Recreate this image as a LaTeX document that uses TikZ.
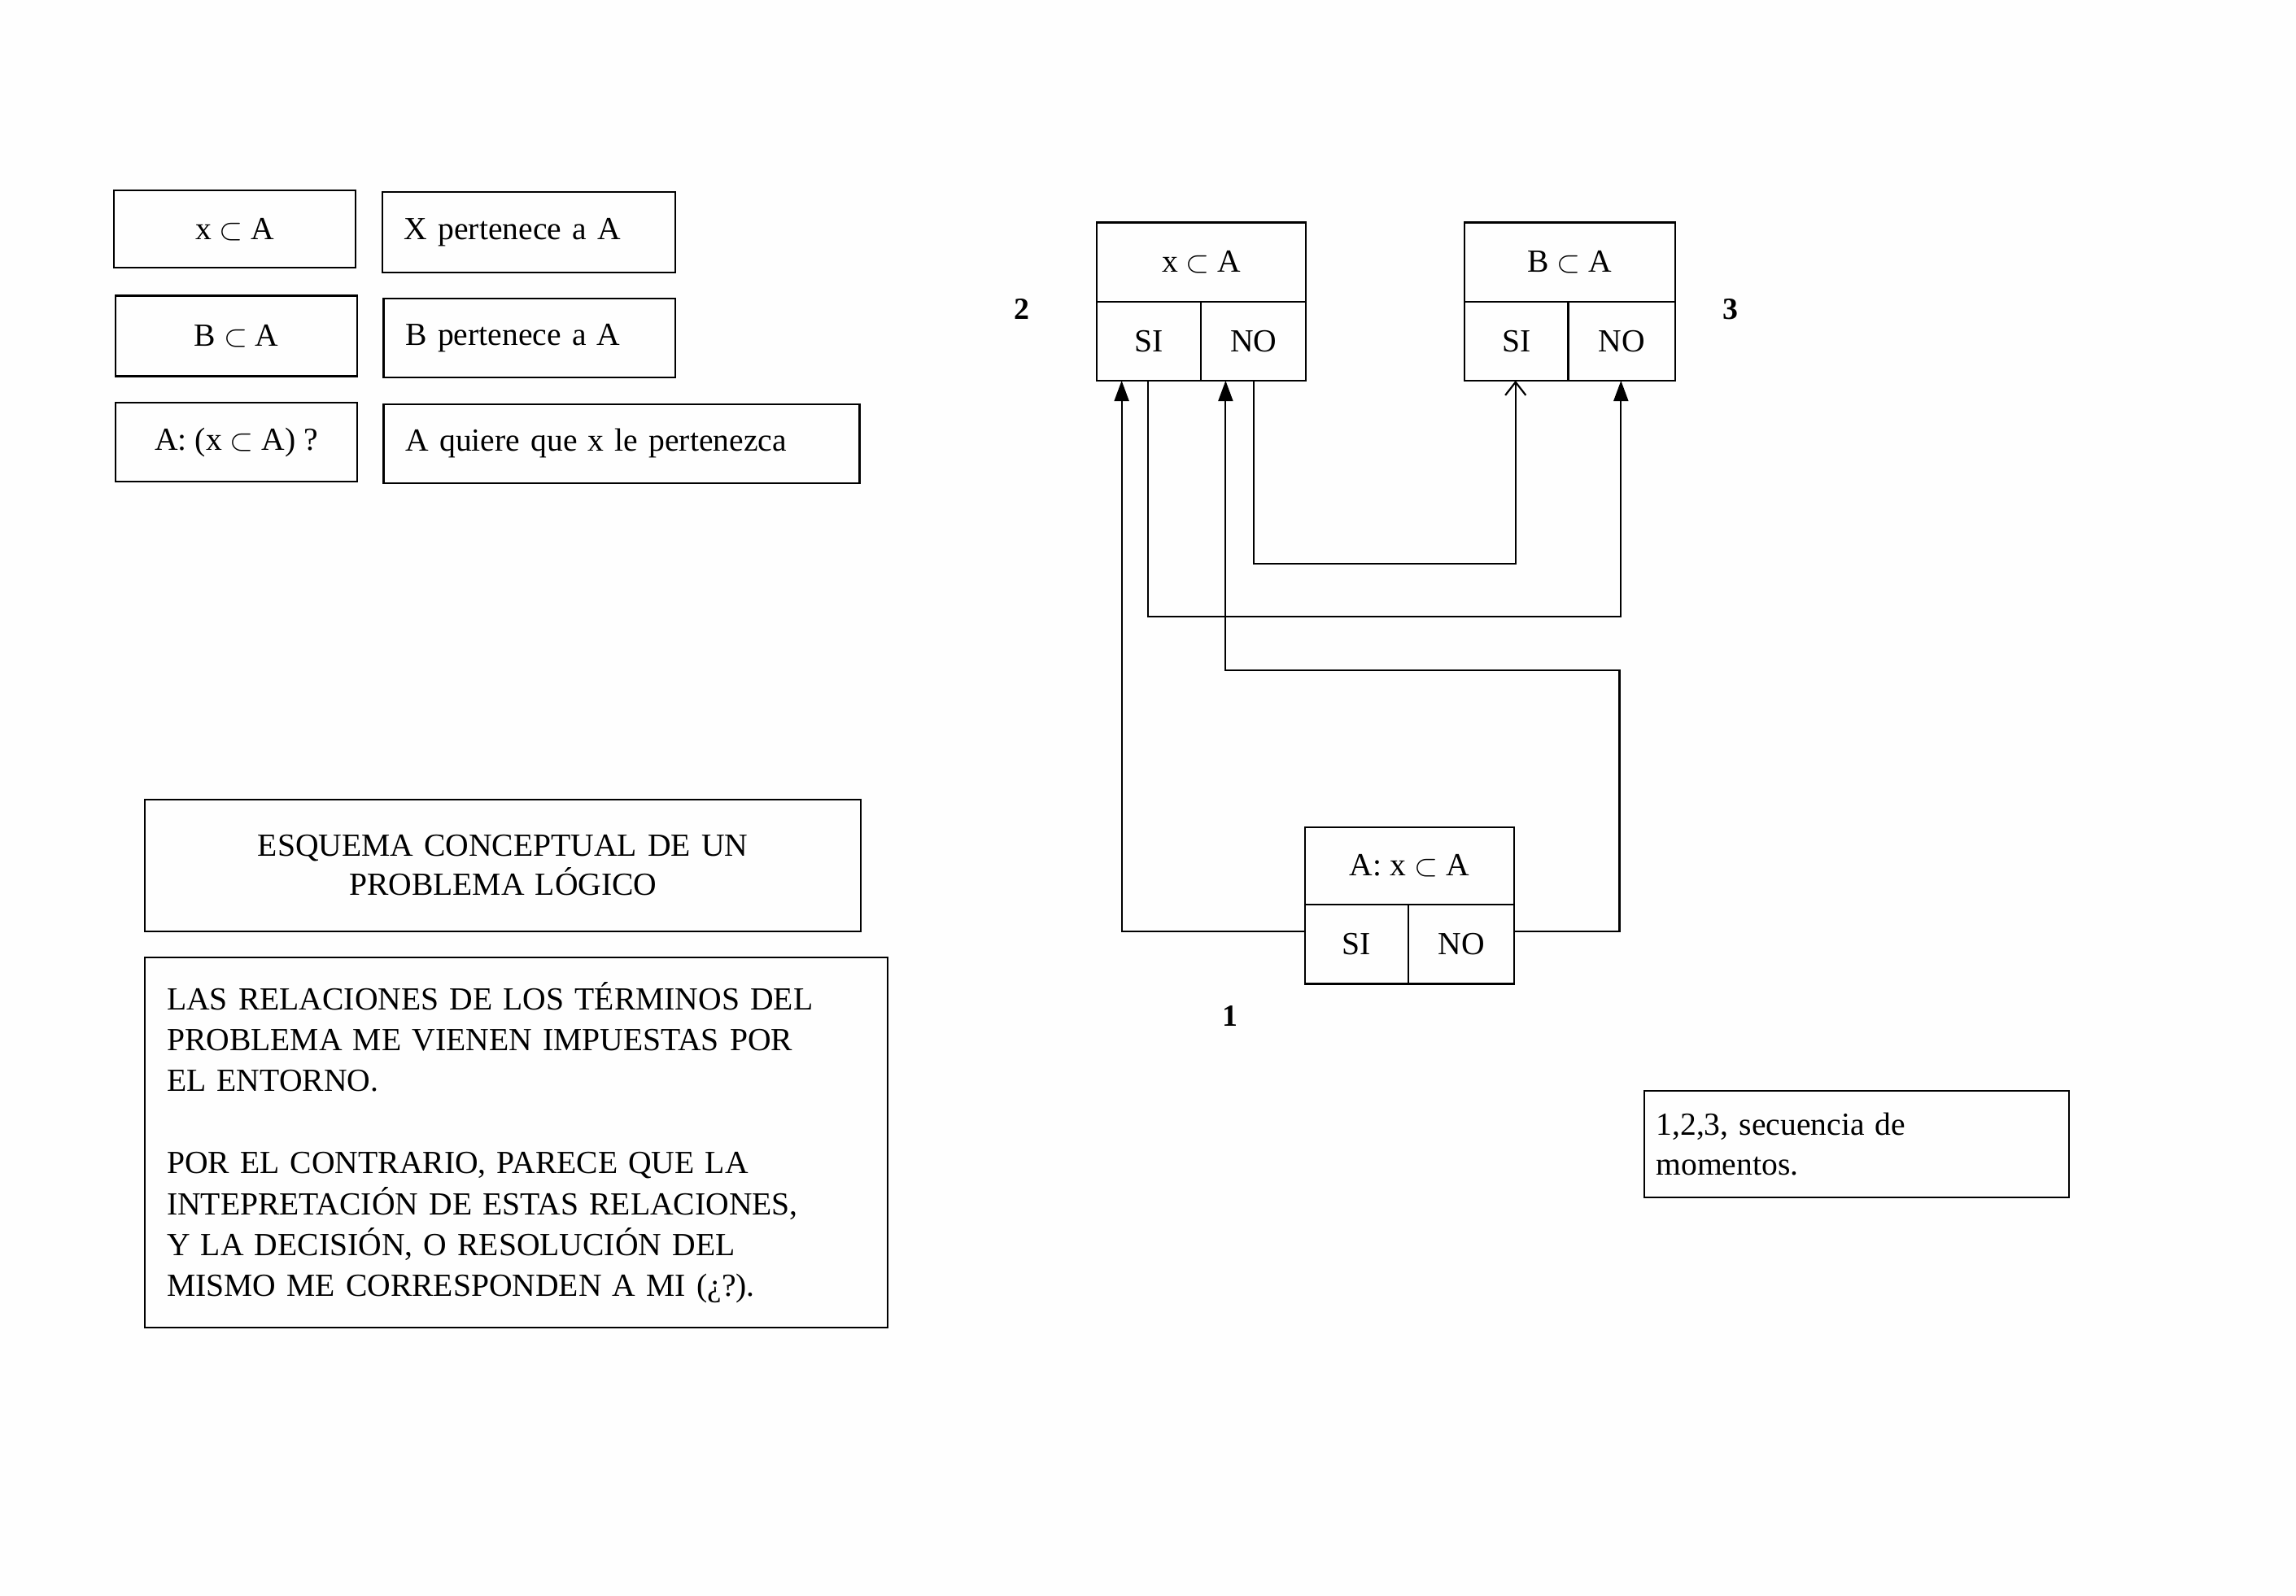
\documentclass[tikz,border=0pt]{standalone}
\usepackage{fontspec}
\setmainfont{Liberation Serif}
\usetikzlibrary{arrows.meta,calc}
\begin{document}
\begin{tikzpicture}[x=1pt,y=-1pt,
  bx/.style={draw,line width=1.2pt,inner sep=0pt,font=\fontsize{22}{27}\selectfont},
  ln/.style={line width=1.2pt},
  tip/.style={-{Triangle[length=14pt,width=10pt]}},
  num/.style={font=\fontsize{21}{25}\selectfont\bfseries}]
\fill[white!94!violet!6] (0,0) rectangle (1568,1090);
\useasboundingbox (0,0) rectangle (1568,1090);
\def\bxat#1#2#3#4#5#6{\node[bx,minimum width=#4-#2,minimum height=#5-#3] (#1) at ({(#2+#4)/2},{(#3+#5)/2}) {#6};}
\bxat{l1}{78}{130}{243}{183}{x $\subset$ A}
\node[bx,minimum width=200,minimum height=55,text width=170,align=left] (r1) at (361,158.5) {X pertenece a A\\[3pt]};
\bxat{l2}{79}{202}{244}{257}{B $\subset$ A}
\node[bx,minimum width=199,minimum height=54,text width=169,align=left] (r2) at (361.5,231) {B pertenece a A\\[3pt]};
\bxat{l3}{79}{275}{244}{329}{A: (x $\subset$ A) ?}
\node[bx,minimum width=325,minimum height=54,text width=295,align=left] (r3) at (424.5,303) {A quiere que x le pertenezca\\[3pt]};
\node[bx,minimum width=489,minimum height=90,text width=470,align=center] (title) at (343.5,591) {ESQUEMA CONCEPTUAL DE UN\\PROBLEMA LÓGICO\\[16pt]};
\node[bx,minimum width=507,minimum height=253,text width=477,align=left,font=\fontsize{22}{28}\selectfont] (txt) at (352.5,780.5) {LAS RELACIONES DE LOS TÉRMINOS DEL\\PROBLEMA ME VIENEN IMPUESTAS POR\\EL ENTORNO.\\[28pt]POR EL CONTRARIO, PARECE QUE LA\\INTEPRETACIÓN DE ESTAS RELACIONES,\\Y LA DECISIÓN, O RESOLUCIÓN DEL\\MISMO ME CORRESPONDEN A MI (¿?).\\[16pt]};
% box 2
\bxat{h2}{749}{152}{892}{206}{x $\subset$ A}
\bxat{s2}{749}{206}{820}{260}{SI}
\bxat{n2}{820}{206}{892}{260}{NO}
% box 3
\bxat{h3}{1000}{152}{1144}{206}{B $\subset$ A}
\bxat{s3}{1000}{206}{1071}{260}{SI}
\bxat{n3}{1071}{206}{1144}{260}{NO}
% box 1
\bxat{h1}{891}{565}{1034}{618}{A: x $\subset$ A}
\bxat{s1}{891}{618}{962}{672}{SI}
\bxat{n1}{962}{618}{1034}{672}{NO}
\node[num] (k2) at (698,211) {2};
\node[num] (k3) at (1182,211) {3};
\node[num] (k1) at (840,694) {1};
\node[bx,minimum width=290,minimum height=73,text width=274,align=left] (leg) at (1268,781.5) {1,2,3, secuencia de\\momentos.\\[6pt]};
\coordinate (a1) at ($(s1.west)+(0,-9)$);
\coordinate (a2) at ($(n1.east)+(0,-9)$);
% connectors
\draw[ln,tip] (a1) -| (766,260);
\draw[ln,tip] (a2) -| (1106,458) -| (837,260);
\draw[ln,tip] (784,260) |- (1107,421) -- (1107,260);
\draw[ln,-{Straight Barb[length=9pt,width=14pt]}] (856,260) |- (1035,385) -- (1035,260);
\end{tikzpicture}
\end{document}
